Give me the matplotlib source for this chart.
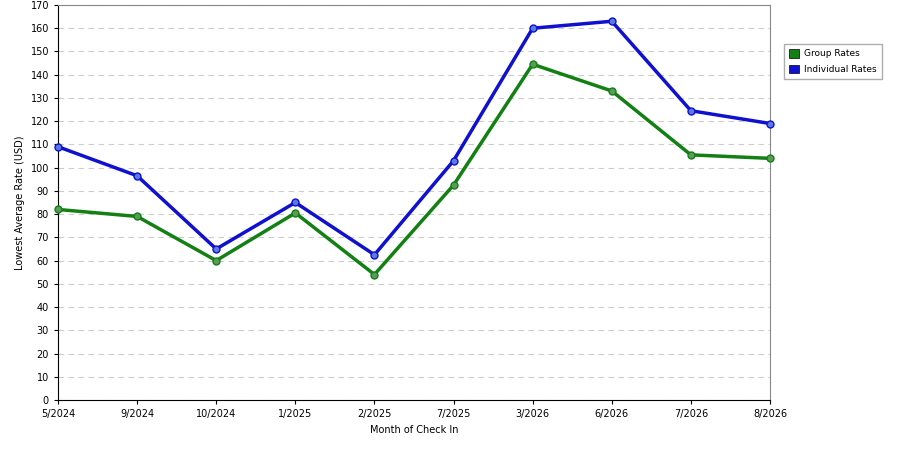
import matplotlib
matplotlib.use("Agg")
import matplotlib.pyplot as plt

months = ["5/2024","9/2024","10/2024","1/2025","2/2025","7/2025","3/2026","6/2026","7/2026","8/2026"]
group_rates = [82, 79, 60, 80.5, 54, 92.5, 144.5, 133, 105.5, 104]
individual_rates = [109, 96.5, 65, 85, 62.5, 103, 160, 163, 124.5, 119]

fig = plt.figure(figsize=(9, 4.5), dpi=100)
ax = fig.add_axes([58/900, 50/450, 712/900, 395/450])
x = range(len(months))
ax.plot(x, group_rates, color="#128012", lw=2.5, marker="o", ms=5, mfc="#5a9a5a", mec="#128012", label="Group Rates", zorder=3, clip_on=False)
ax.plot(x, individual_rates, color="#1010d0", lw=2.5, marker="o", ms=5, mfc="#5a7ae0", mec="#1010d0", label="Individual Rates", zorder=3, clip_on=False)
ax.set_xlim(0, len(months)-1)
ax.set_ylim(0, 170)
ax.set_yticks(range(0, 171, 10))
ax.set_xticks(list(x))
ax.set_xticklabels(months)
ax.tick_params(labelsize=7, length=3)
ax.grid(axis="y", color="#cccccc", ls=(0, (5, 4)), lw=0.8)
ax.set_xlabel("Month of Check In", fontsize=7)
ax.set_ylabel("Lowest Average Rate (USD)", fontsize=7)
for s in ["top", "right"]:
    ax.spines[s].set_color("#888888")
fig.legend(loc="upper left", bbox_to_anchor=(779/900, 1-39/450), fontsize=6.5, frameon=True,
           fancybox=False, edgecolor="#999999", handlelength=1.1, handleheight=1.1,
           labelspacing=0.7, borderpad=0.6, handletextpad=0.6,
           handles=[plt.Rectangle((0,0),1,1,fc="#128012",ec="black",lw=0.5),
                    plt.Rectangle((0,0),1,1,fc="#1010d0",ec="black",lw=0.5)],
           labels=["Group Rates", "Individual Rates"])
fig.savefig("out.png", dpi=100)
